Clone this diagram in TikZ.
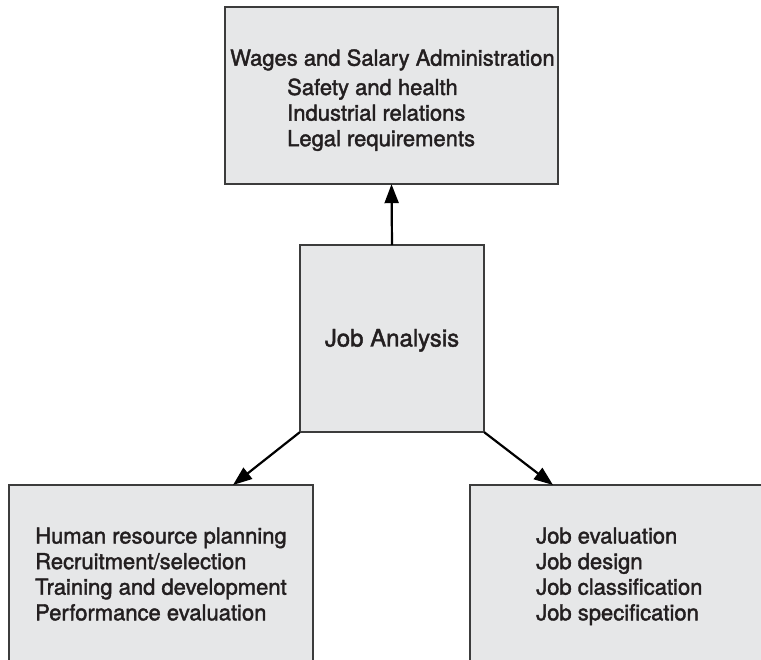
\documentclass[tikz,border=0pt]{standalone}
\usepackage{fontspec}
\setmainfont{TeX Gyre Heros}[FakeBold=1.8]
\usetikzlibrary{arrows.meta}
\definecolor{boxfill}{HTML}{E6E7E8}
\definecolor{boxline}{HTML}{3C3C3C}
\definecolor{ink}{HTML}{231F20}
\tikzset{
  panel/.style={draw=boxline, line width=1.4pt, fill=boxfill},
  itemtext/.style={anchor=base west, inner sep=0pt, text=ink,
    font=\fontsize{22}{26}\selectfont},
  titletext/.style={anchor=base, inner sep=0pt, text=ink,
    font=\fontsize{24}{28}\selectfont},
  flow/.style={draw=black, line width=2.2pt,
    -{Triangle[length=19pt,width=14pt]}}
}
\begin{document}
\begin{tikzpicture}[x=1pt, y=-1pt]
  \clip (0,0) rectangle (761,660);
  \fill[white] (0,0) rectangle (761,660);

  % boxes (the two lower ones run past the page edge)
  \draw[panel] (225,7) rectangle (558,184);
  \draw[panel] (300,245) rectangle (484,432);
  \draw[panel] (9,485) rectangle (313,700);
  \draw[panel] (470,485) rectangle (800,700);

  \node[draw=none, inner sep=0pt, minimum width=333pt, minimum height=177pt] (top) at (391.5,95.5) {};
  \node[draw=none, inner sep=0pt, minimum width=184pt, minimum height=187pt] (mid) at (392,338.5) {};
  \coordinate (lefttip) at (233,485);
  \coordinate (righttip) at (553,485);

  % text
  \node[titletext] (ja) at (392,346.5) {Job Analysis};

  \node[itemtext] (w0) at (230,65.7) {Wages and Salary Administration};
  \node[itemtext] (w1) at (287,95) {Safety and health};
  \node[itemtext] (w2) at (287,120.6) {Industrial relations};
  \node[itemtext] (w3) at (287,146.2) {Legal requirements};

  \node[itemtext] (h1) at (35,543.5) {Human resource planning};
  \node[itemtext] (h2) at (35,569.1) {Recruitment/selection};
  \node[itemtext] (h3) at (35,594.7) {Training and development};
  \node[itemtext] (h4) at (35,620.3) {Performance evaluation};

  \node[itemtext] (j1) at (536,543.5) {Job evaluation};
  \node[itemtext] (j2) at (536,569.1) {Job design};
  \node[itemtext] (j3) at (536,594.7) {Job classification};
  \node[itemtext] (j4) at (536,620.3) {Job specification};

  % connectors
  \draw[flow] (mid.north) -- (top.south);
  \draw[flow] (mid.south west) -- (lefttip);
  \draw[flow] (mid.south east) -- (righttip);
\end{tikzpicture}
\end{document}
